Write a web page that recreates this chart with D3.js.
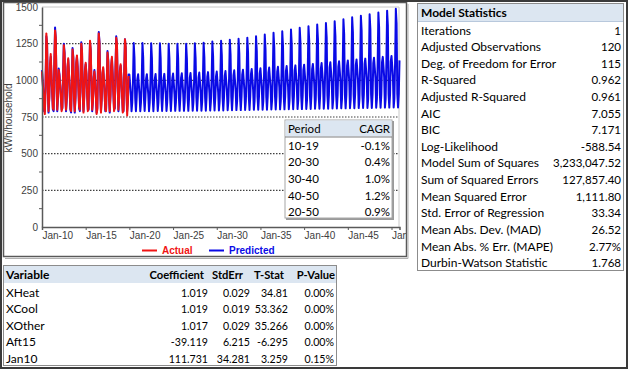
<!DOCTYPE html>
<html><head><meta charset="utf-8">
<script src="https://cdn.jsdelivr.net/npm/d3@7"></script>
<style>
html,body{margin:0;padding:0;background:#fff;}
svg{display:block;}
</style></head>
<body>
<svg id="c" width="628" height="369"></svg>
<script>
// ---------- DATA ----------
const startYear = 2010;
// Actual kWh/household, monthly Jan-2010 .. Dec-2019
const actual = [
 1060, 980, 900, 800, 770, 980,1320,1240, 930, 790, 880,1100,
 1180,1040, 930, 810, 800,1120,1340,1290, 960, 800, 900,1070,
 1030, 960, 880, 790, 820,1040,1240,1180, 900, 800, 880,1090,
 1150,1060, 940, 810, 790, 980,1210,1150, 880, 790, 890,1120,
 1170,1080, 950, 820, 800,1020,1250,1200, 920, 780, 880,1060,
 1120,1050, 910, 790, 810,1060,1270,1210, 960, 800, 860,1010,
 1060, 990, 890, 770, 800,1130,1320,1250, 940, 780, 870,1050,
 1090,1010, 910, 800, 790, 990,1190,1130, 880, 790, 900,1100,
 1160,1040, 920, 790, 820,1080,1290,1250, 960, 800, 880,1060,
 1110,1010, 900, 780, 800,1050,1280,1230, 920, 760, 860,1030
];
// Predicted kWh/household, monthly Jan-2010 .. Dec-2050
const predicted = [
 1070, 990, 910, 790, 790, 990,1300,1250, 940, 780, 890,1090,
 1160,1030, 920, 800, 790,1110,1360,1280, 950, 790, 890,1080,
 1040, 970, 890, 800, 810,1050,1250,1190, 910, 790, 870,1080,
 1140,1050, 930, 800, 780, 990,1220,1160, 890, 780, 880,1110,
 1160,1090, 960, 810, 790,1030,1260,1190, 910, 790, 890,1070,
 1110,1040, 920, 800, 800,1050,1260,1200, 950, 790, 870,1020,
 1070,1000, 900, 780, 810,1120,1330,1260, 950, 790, 880,1040,
 1080,1000, 920, 790, 800,1000,1200,1140, 890, 780, 890,1090,
 1150,1050, 930, 800, 810,1090,1300,1240, 950, 790, 890,1070,
 1100,1020, 910, 790, 790,1060,1280,1220, 930, 790, 870,1040,
 1040, 970, 900, 790, 850,1002,1255,1155, 880, 790, 880,1010,
 1041, 969, 901, 789, 851,1001,1254,1156, 879, 791, 881,1011,
 1042, 972, 902, 790, 850,1001,1252,1152, 880, 790, 880,1012,
 1043, 973, 903, 791, 851,1002,1252,1152, 881, 791, 881,1013,
 1044, 974, 904, 791, 851,1000,1250,1150, 881, 791, 881,1014,
 1046, 976, 906, 792, 852,1001,1250,1150, 882, 792, 882,1016,
 1048, 978, 908, 792, 852,1001,1250,1150, 882, 792, 882,1018,
 1050, 980, 910, 793, 853,1002,1252,1152, 883, 793, 883,1020,
 1053, 983, 913, 793, 853,1005,1257,1157, 883, 793, 883,1023,
 1056, 986, 916, 794, 854,1009,1264,1164, 884, 794, 884,1026,
 1060, 990, 920, 795, 855,1012,1270,1170, 885, 795, 885,1030,
 1064, 994, 924, 796, 856,1016,1276,1176, 886, 796, 886,1034,
 1068, 998, 928, 797, 857,1020,1283,1183, 887, 797, 887,1038,
 1072,1002, 932, 798, 858,1024,1291,1191, 888, 798, 888,1042,
 1077,1007, 937, 799, 859,1029,1300,1200, 889, 799, 889,1047,
 1082,1012, 942, 800, 860,1036,1312,1212, 890, 800, 890,1052,
 1087,1017, 947, 801, 861,1042,1324,1224, 891, 801, 891,1057,
 1092,1022, 952, 802, 862,1048,1335,1235, 892, 802, 892,1062,
 1097,1027, 957, 803, 863,1055,1347,1247, 893, 803, 893,1067,
 1102,1032, 962, 804, 864,1061,1358,1258, 894, 804, 894,1072,
 1107,1037, 967, 805, 865,1067,1369,1269, 895, 805, 895,1077,
 1112,1042, 972, 806, 866,1073,1380,1280, 896, 806, 896,1082,
 1118,1048, 978, 807, 867,1079,1391,1291, 897, 807, 897,1088,
 1124,1054, 984, 808, 868,1085,1402,1302, 898, 808, 898,1094,
 1130,1060, 990, 809, 869,1092,1416,1316, 899, 809, 899,1100,
 1136,1066, 996, 810, 870,1100,1430,1330, 900, 810, 900,1106,
 1142,1072,1002, 811, 871,1105,1440,1340, 901, 811, 901,1112,
 1148,1078,1008, 812, 872,1111,1450,1350, 902, 812, 902,1118,
 1154,1084,1014, 813, 873,1117,1462,1362, 903, 813, 903,1124,
 1160,1090,1020, 814, 874,1124,1475,1375, 904, 814, 904,1130,
 1166,1096,1026, 815, 875,1131,1488,1388, 905, 815, 905,1136
];
const xTickLabels = ["Jan-10","Jan-15","Jan-20","Jan-25","Jan-30","Jan-35","Jan-40","Jan-45","Jan-50"];
const xTickYears = [2010,2015,2020,2025,2030,2035,2040,2045,2050];
const yTicks = [0,250,500,750,1000,1250,1500];
const yTitle = "kWh/household";
const seriesNames = ["Actual","Predicted"];

const cagrPeriods = ["10-19","20-30","30-40","40-50","20-50"];
const cagrValues = ["-0.1%","0.4%","1.0%","1.2%","0.9%"];

const statLabels = ["Iterations","Adjusted Observations","Deg. of Freedom for Error","R-Squared","Adjusted R-Squared","AIC","BIC","Log-Likelihood","Model Sum of Squares","Sum of Squared Errors","Mean Squared Error","Std. Error of Regression","Mean Abs. Dev. (MAD)","Mean Abs. % Err. (MAPE)","Durbin-Watson Statistic"];
const statValues = ["1","120","115","0.962","0.961","7.055","7.171","-588.54","3,233,047.52","127,857.40","1,111.80","33.34","26.52","2.77%","1.768"];

const coefHeaders = ["Variable","Coefficient","StdErr","T-Stat","P-Value"];
const coefVars = ["XHeat","XCool","XOther","Aft15","Jan10"];
const coefCoef = ["1.019","1.019","1.017","-39.119","111.731"];
const coefStdErr = ["0.029","0.019","0.029","6.215","34.281"];
const coefTStat = ["34.81","53.362","35.266","-6.295","3.259"];
const coefPValue = ["0.00%","0.00%","0.00%","0.00%","0.15%"];

// ---------- DRAW ----------
const svg = d3.select("#c");
const RED = "#f01414", BLUE = "#0a0ae6";
const chartFont = "'Liberation Sans', Arial, sans-serif";
const tableFont = "Lato, 'Open Sans', sans-serif";

svg.append("rect").attr("width",628).attr("height",369).attr("fill","#fff");

// chart panel
const panel = svg.append("g");
svg.append("defs").append("clipPath").attr("id","panelClip")
  .append("rect").attr("x",3).attr("y",2).attr("width",403).attr("height",254);
const pg = panel.append("g").attr("clip-path","url(#panelClip)");

const x = d3.scaleTime()
  .domain([new Date(2010,0,1), new Date(2050,11,1)])
  .range([42, 399.5]);
const y = d3.scaleLinear().domain([0,1500]).range([227, 7]);

// plot border (top/right light gray)
pg.append("path").attr("d",`M42,7H399V227`).attr("fill","none").attr("stroke","#c8c8c8").attr("stroke-width",1);

// gridlines
pg.append("g").selectAll("line").data(yTicks.filter(v=>v>0 && v<1500)).join("line")
  .attr("x1",42).attr("x2",399).attr("y1",d=>y(d)).attr("y2",d=>y(d))
  .attr("stroke","#404040").attr("stroke-width",1.2).attr("stroke-dasharray","1.5,1.5");

// lines
const mk = (arr) => arr.map((v,i)=>({d:new Date(startYear,i,1), v}));
const line = d3.line().x(p=>x(p.d)).y(p=>y(p.v));
pg.append("path").datum(mk(predicted)).attr("d",line).attr("fill","none")
  .attr("stroke",BLUE).attr("stroke-width",2).attr("stroke-linejoin","round");
pg.append("path").datum(mk(actual)).attr("d",line).attr("fill","none")
  .attr("stroke",RED).attr("stroke-width",2).attr("stroke-linejoin","round");

// axes
const yAxis = d3.axisLeft(y).tickValues(yTicks).tickSize(0).tickPadding(4).tickFormat(d3.format("d"));
const gy = pg.append("g").attr("transform","translate(42,0)").call(yAxis);
gy.select(".domain").attr("stroke","#595959").attr("stroke-width",1.5);
gy.selectAll("text").attr("font-family",chartFont).attr("font-size",10).attr("fill","#404040");
// minor ticks on y
pg.append("g").selectAll("line").data([125,375,625,875,1125,1375]).join("line")
  .attr("x1",39).attr("x2",42).attr("y1",d=>y(d)).attr("y2",d=>y(d)).attr("stroke","#595959");

const xTickDates = xTickYears.map(yr=>new Date(yr,0,1));
const xAxis = d3.axisBottom(x).tickValues(xTickDates).tickSize(3).tickFormat((d,i)=>xTickLabels[i]);
const gx = pg.append("g").attr("transform","translate(0,227)").call(xAxis);
gx.select(".domain").attr("stroke","#595959").attr("stroke-width",1.5);
gx.selectAll(".tick line").attr("stroke","#595959");
gx.selectAll("text").attr("font-family",chartFont).attr("font-size",10).attr("fill","#404040")
  .attr("text-anchor","start").attr("dy","0.55em");

// y title
pg.append("text").attr("transform","translate(12,118) rotate(-90)")
  .attr("text-anchor","middle").attr("font-family",chartFont).attr("font-size",10).attr("fill","#404040")
  .text(yTitle);

// legend
const lg = pg.append("g").attr("font-family",chartFont).attr("font-size",10).attr("font-weight","bold");
[[142,RED,seriesNames[0]],[209,BLUE,seriesNames[1]]].forEach(([lx,c,t])=>{
  lg.append("line").attr("x1",lx).attr("x2",lx+15).attr("y1",250.5).attr("y2",250.5).attr("stroke",c).attr("stroke-width",2);
  lg.append("text").attr("x",lx+20).attr("y",254).attr("fill",c).text(t);
});

// CAGR table
const ct = pg.append("g").attr("font-family",tableFont).attr("font-size",11.5);
ct.append("rect").attr("x",286).attr("y",121).attr("width",108).attr("height",99).attr("fill","#9a9a9a");
ct.append("rect").attr("x",285).attr("y",120).attr("width",107).attr("height",98).attr("fill","#fff").attr("stroke","#a6a6a6");
ct.append("rect").attr("x",285.5).attr("y",120.5).attr("width",106).attr("height",16).attr("fill","#dce6f1");
ct.append("line").attr("x1",285).attr("x2",392).attr("y1",137).attr("y2",137).attr("stroke","#808080");
ct.append("text").attr("x",288).attr("y",132.5).text("Period");
ct.append("text").attr("x",390).attr("y",132.5).attr("text-anchor","end").text("CAGR");
cagrPeriods.forEach((p,i)=>{
  const yy = 149.5 + i*16.7;
  ct.append("text").attr("x",288).attr("y",yy).text(p);
  ct.append("text").attr("x",390).attr("y",yy).attr("text-anchor","end").text(cagrValues[i]);
});

// panel border
panel.append("rect").attr("x",3.5).attr("y",2.5).attr("width",403).attr("height",254)
  .attr("fill","none").attr("stroke","#595959").attr("stroke-width",1.5);
panel.append("path").attr("d","M5,258.5H408V4").attr("fill","none").attr("stroke","#b0b0b0").attr("stroke-width",1);

// Model statistics table
const ms = svg.append("g").attr("font-family",tableFont).attr("font-size",12);
ms.append("rect").attr("x",417.5).attr("y",3.5).attr("width",206).attr("height",267).attr("fill","#fff").attr("stroke","#8c8c8c");
ms.append("rect").attr("x",418).attr("y",4).attr("width",205).attr("height",17).attr("fill","#dce6f1");
ms.append("line").attr("x1",418).attr("x2",623).attr("y1",21.5).attr("y2",21.5).attr("stroke","#b8c8dc");
ms.append("text").attr("x",421).attr("y",17).attr("font-weight","bold").text("Model Statistics");
statLabels.forEach((l,i)=>{
  const yy = 34.5 + i*16.62;
  ms.append("text").attr("x",421).attr("y",yy).text(l);
  ms.append("text").attr("x",621).attr("y",yy).attr("text-anchor","end").attr("font-size",11.5).text(statValues[i]);
});

// Coefficient table
const cf = svg.append("g").attr("font-family",tableFont).attr("font-size",12);
cf.append("rect").attr("x",3.5).attr("y",265.5).attr("width",333).attr("height",100).attr("fill","#fff").attr("stroke","#8c8c8c");
cf.append("rect").attr("x",4).attr("y",266).attr("width",332).attr("height",17).attr("fill","#dce6f1");
const hdrRight = [null,204,243,284,335];
const valRight = [null,208,250,288,334];
cf.append("text").attr("x",6).attr("y",279).attr("font-weight","bold").text(coefHeaders[0]);
for(let j=1;j<5;j++){
  cf.append("text").attr("x",hdrRight[j]).attr("y",279).attr("font-weight","bold").attr("font-size",11.2)
    .attr("text-anchor","end").text(coefHeaders[j]);
}
const cols = [coefCoef,coefStdErr,coefTStat,coefPValue];
coefVars.forEach((v,i)=>{
  const yy = 296.5 + i*16.6;
  cf.append("text").attr("x",6).attr("y",yy).text(v);
  cols.forEach((col,j)=>{
    cf.append("text").attr("x",valRight[j+1]).attr("y",yy).attr("text-anchor","end").attr("font-size",10.6).text(col[i]);
  });
});

// outer frame
svg.append("rect").attr("x",1).attr("y",1).attr("width",626).attr("height",367)
  .attr("fill","none").attr("stroke","#3a3a3a").attr("stroke-width",2);
</script>
</body></html>
